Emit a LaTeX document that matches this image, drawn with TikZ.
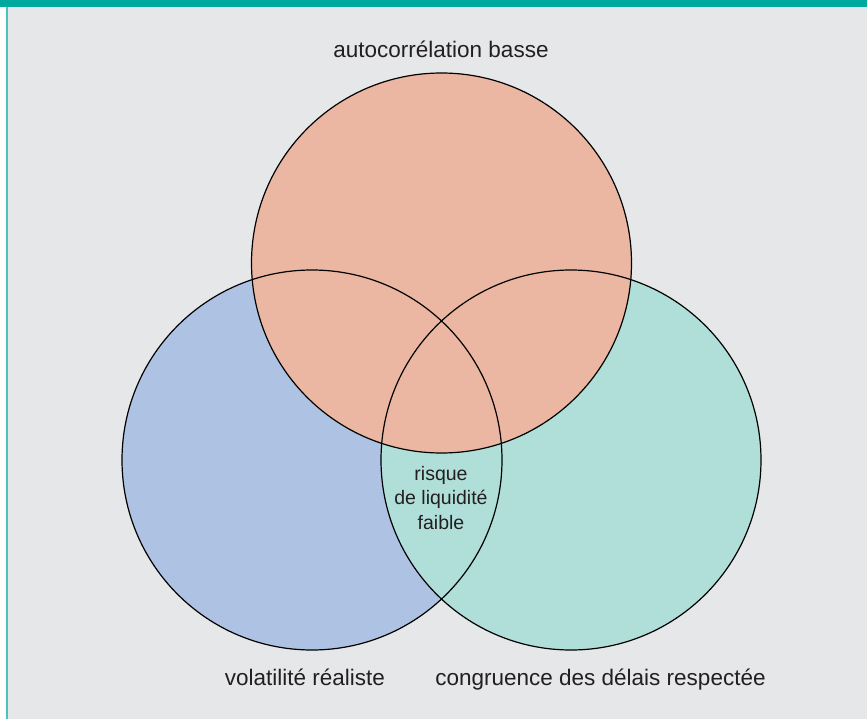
\documentclass[tikz,border=0pt]{standalone}
\usepackage{fontspec}
\setmainfont{Liberation Sans}
\usepackage{xcolor}
\usepackage{tikz}
\usetikzlibrary{positioning}

\definecolor{bgGray}{RGB}{230,231,232}
\definecolor{headTeal}{RGB}{0,169,157}
\definecolor{autoOrange}{RGB}{235,183,162}
\definecolor{volBlue}{RGB}{174,194,227}
\definecolor{congTeal}{RGB}{176,222,217}
\definecolor{inkGray}{RGB}{35,31,32}

\begin{document}
\begin{tikzpicture}[x=1pt, y=-1pt,
  venn/.style={circle, minimum size=380pt, inner sep=0pt, outer sep=0pt},
  setlabel/.style={text=inkGray, font=\fontsize{22.5}{27}\selectfont, inner sep=0pt, anchor=base},
  corelabel/.style={text=inkGray, font=\fontsize{19.5}{24.5}\selectfont, align=center, inner sep=0pt}]
\useasboundingbox (0,0) rectangle (867,719);
% frame
\fill[bgGray] (8,7) rectangle (867,719);
\fill[headTeal] (0,0) rectangle (867,7);
\fill[headTeal!70] (6,7) rectangle (8,719);

% the three sets
\node (vol) [venn, fill=volBlue] at (312,460) {};
\node (cong) [venn, fill=congTeal] at (571,460) {};
\node (auto) [venn, fill=autoOrange] at (441.5,263) {};
\foreach \s in {vol,cong,auto}
  \node [venn, draw=black, line width=1.2pt] at (\s.center) {};

\node (autolbl) [setlabel] at (441,58) {autocorrélation basse};
\node (vollbl) [setlabel] at (305,685) {volatilité réaliste};
\node (conglbl) [setlabel] at (600.5,685) {congruence des délais respectée};
\node (core) [corelabel] at (441,498) {risque\\de liquidité\\faible};
\end{tikzpicture}
\end{document}
